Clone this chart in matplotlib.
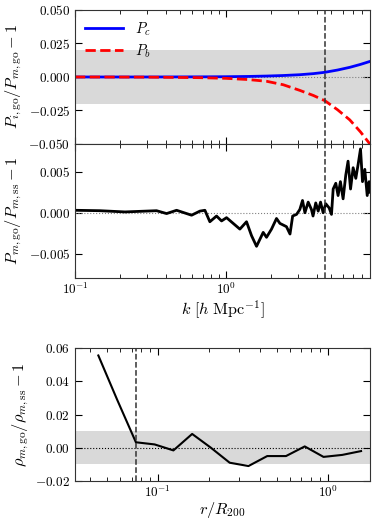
import matplotlib
matplotlib.use("Agg")
import matplotlib.pyplot as plt
import numpy as np

plt.rcParams['font.family'] = 'serif'
plt.rcParams['font.serif'] = ['cmr10']
plt.rcParams['mathtext.fontset'] = 'cm'
plt.rcParams['axes.formatter.use_mathtext'] = True
plt.rcParams['font.size'] = 9.5
plt.rcParams['axes.labelsize'] = 11.7
plt.rcParams['xtick.direction'] = 'in'
plt.rcParams['ytick.direction'] = 'in'
plt.rcParams['xtick.top'] = True
plt.rcParams['ytick.right'] = True

# top panel: component ratios vs k
k_comp = [0.1, 0.3, 0.67, 1.0, 1.4, 1.86, 2.4, 3.09, 3.8, 4.53, 5.5, 6.62, 7.8, 9.0]
p_c = [0.0, 0.0, 0.0001, 0.0002, 0.0004, 0.0007, 0.0011, 0.0017, 0.0025, 0.0035, 0.0052, 0.0072, 0.0094, 0.0116]
p_b = [0.0, -0.0001, -0.0005, -0.001, -0.0019, -0.0032, -0.0058, -0.010, -0.0138, -0.0177, -0.0245, -0.032, -0.041, -0.050]

# middle panel: matter power ratio
k_m = [0.1, 0.1464, 0.2143, 0.347, 0.4046, 0.4713, 0.5925, 0.6726, 0.726, 0.783,
       0.867, 0.936, 1.01, 1.118, 1.238, 1.37, 1.479, 1.596, 1.767, 1.859,
       2.006, 2.165, 2.28, 2.52, 2.66, 2.77, 2.94, 3.09, 3.22, 3.34,
       3.51, 3.69, 3.78, 3.94, 4.09, 4.24, 4.41, 4.59, 4.83, 5.01,
       5.14, 5.35, 5.54, 5.74, 5.98, 6.23, 6.45, 6.7, 6.97, 7.26,
       7.52, 7.8, 8.04, 8.33, 8.64, 8.9, 8.99]
dp_m = [0.0003, 0.00025, 0.0001, 0.00025, -0.0001, 0.0003, -0.0003, 0.0002, 0.0003, -0.0011,
        -0.0004, -0.001, -0.0006, -0.0013, -0.002, -0.0011, -0.0028, -0.0041, -0.0024, -0.003,
        -0.002, -0.0007, -0.0013, -0.0017, -0.0026, -0.0004, -0.0002, 0.0004, 0.0015, 0.0,
        0.0013, 0.0004, -0.0004, 0.0012, 0.0002, 0.0013, 0.0, 0.0011, 0.0006, -0.0002,
        0.0029, 0.0036, 0.0021, 0.0038, 0.0017, 0.0046, 0.0063, 0.0029, 0.0055, 0.0042,
        0.0059, 0.0078, 0.0038, 0.0053, 0.0021, 0.0038, 0.0025]

# bottom panel: density profile ratio
r_r200 = [0.0446, 0.0575, 0.0742, 0.0957, 0.1234, 0.1591, 0.2052, 0.2646, 0.3413, 0.4401,
          0.5676, 0.732, 0.944, 1.217, 1.57]
drho = [0.0555, 0.029, 0.0033, 0.002, -0.0016, 0.0083, 0.0, -0.009, -0.011, -0.005,
        -0.005, 0.0008, -0.0055, -0.0043, -0.002]

k_cut = 4.53
r_cut = 0.0742

fig = plt.figure(figsize=(3.74, 5.23), dpi=100)
ax1 = fig.add_axes([0.2005, 0.7247, 0.7885, 0.2562])
ax2 = fig.add_axes([0.2005, 0.4680, 0.7885, 0.2567], sharex=ax1)
ax3 = fig.add_axes([0.2005, 0.0803, 0.7885, 0.2543])

band = '#d9d9d9'
vcol = '#333333'

ax1.axhspan(-0.02, 0.02, color=band, lw=0, zorder=0)
ax1.axhline(0, color='gray', ls=':', lw=0.8)
ax1.plot(k_comp, p_c, color='blue', lw=2.0, label='$P_c$')
ax1.plot(k_comp, p_b, color='red', lw=2.0, ls='--', label='$P_b$')
ax1.axvline(k_cut, color=vcol, ls='--', lw=1.1)
ax1.set_xscale('log')
ax1.set_xlim(0.1, 9.0)
ax1.set_ylim(-0.05, 0.05)
ax1.set_yticks([-0.05, -0.025, 0.0, 0.025, 0.05])
ax1.set_yticklabels(['$-0.050$', '$-0.025$', '$0.000$', '$0.025$', '$0.050$'])
ax1.set_ylabel(r'$P_{i,\rm go}/P_{m,\rm go}-1$', labelpad=3)
ax1.tick_params(labelbottom=False)
ax1.legend(loc='upper left', frameon=False, handlelength=2.6, fontsize=10.5,
           borderaxespad=0.3, labelspacing=0.3)

ax2.axhline(0, color='gray', ls=':', lw=0.8)
ax2.plot(k_m, dp_m, color='black', lw=2.0)
ax2.axvline(k_cut, color=vcol, ls='--', lw=1.1)
ax2.set_ylim(-0.008, 0.0084)
ax2.set_yticks([-0.005, 0.0, 0.005])
ax2.set_yticklabels(['$-0.005$', '$0.000$', '$0.005$'])
ax2.set_ylabel(r'$P_{m,\rm go}/P_{m,\rm ss}-1$', labelpad=3)
ax2.set_xlabel(r'$k\ [h\ {\rm Mpc}^{-1}]$', labelpad=1)

ax3.axhspan(-0.01, 0.01, color=band, lw=0, zorder=0)
ax3.axhline(0, color='black', ls=':', lw=0.8)
ax3.plot(r_r200, drho, color='black', lw=1.5)
ax3.axvline(r_cut, color=vcol, ls='--', lw=1.1)
ax3.set_xscale('log')
ax3.set_xlim(0.0325, 1.77)
ax3.set_ylim(-0.02, 0.06)
ax3.set_yticks([-0.02, 0.0, 0.02, 0.04, 0.06])
ax3.set_yticklabels(['$-0.02$', '$0.00$', '$0.02$', '$0.04$', '$0.06$'])
ax3.set_ylabel(r'$\rho_{m,\rm go}/\rho_{m,\rm ss}-1$', labelpad=3)
ax3.set_xlabel(r'$r/R_{200}$', labelpad=0)

for ax in (ax1, ax2, ax3):
    for s in ax.spines.values():
        s.set_color('#333333')
    ax.tick_params(which='major', length=5)
    ax.tick_params(which='minor', length=3)
    ax.tick_params(axis='x', pad=2.5)

fig.savefig('out.png', dpi=100)
